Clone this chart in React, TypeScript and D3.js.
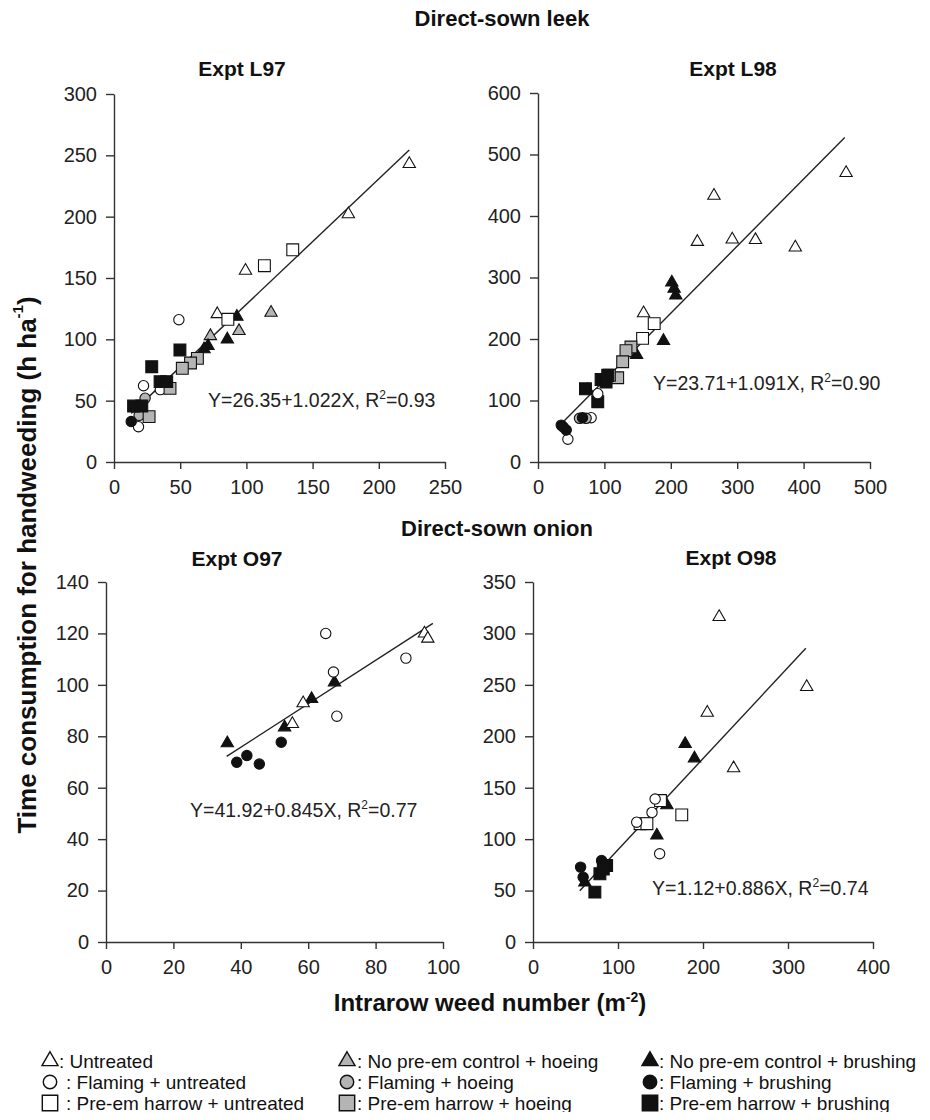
import React, { useEffect, useRef } from 'react';
import * as d3 from 'd3';

// treatment codes: U untreated, H no pre-em + hoeing, B no pre-em + brushing,
// FU/FH/FB flaming + untreated/hoeing/brushing, PU/PH/PB pre-em harrow + ...
const legendRows = [
  ['U', 'H', 'B'],
  ['FU', 'FH', 'FB'],
  ['PU', 'PH', 'PB'],
];
const legendLabels: Record<string, string> = {
  U: ': Untreated',
  H: ': No pre-em control + hoeing',
  B: ': No pre-em control + brushing',
  FU: ': Flaming + untreated',
  FH: ': Flaming + hoeing',
  FB: ': Flaming + brushing',
  PU: ': Pre-em harrow + untreated',
  PH: ': Pre-em harrow + hoeing',
  PB: ': Pre-em harrow + brushing',
};

// [treatment, weeds m-2, h ha-1]
const l97Points: [string, number, number][] = [
  ['U', 223, 243], ['U', 177, 202], ['U', 99.3, 156], ['U', 78, 120.6],
  ['H', 118.6, 121.7], ['H', 94.4, 106.8], ['H', 72.8, 102.7],
  ['B', 92.8, 118.5], ['B', 85.6, 100], ['B', 71, 94.6], ['B', 68, 92],
  ['FU', 49, 116], ['FU', 22.3, 62.2], ['FU', 35, 59], ['FU', 18.5, 28.8],
  ['FH', 23.5, 52], ['FH', 19, 38],
  ['FB', 13, 33], ['FB', 15, 45],
  ['PU', 135, 173], ['PU', 113.6, 160], ['PU', 86, 116.3],
  ['PH', 63, 84.5], ['PH', 57.8, 80.7], ['PH', 51.6, 76.4], ['PH', 42.3, 60], ['PH', 26.5, 37],
  ['PB', 49.8, 91.3], ['PB', 28.5, 77.7], ['PB', 34.8, 65.5], ['PB', 39.8, 65.5],
  ['PB', 14.8, 45.6], ['PB', 21, 45.6],
];
const l98Points: [string, number, number][] = [
  ['U', 464, 470], ['U', 265, 433], ['U', 240, 358], ['U', 292.5, 362],
  ['U', 327.5, 361], ['U', 387.5, 349], ['U', 159, 242],
  ['B', 201.5, 292], ['B', 205, 282], ['B', 207.5, 271], ['B', 189, 197],
  ['B', 148.5, 174], ['B', 75, 117],
  ['PU', 175, 225], ['PU', 157.5, 201],
  ['PH', 140, 187], ['PH', 132.5, 181], ['PH', 127.5, 163], ['PH', 120, 137], ['PH', 107.5, 141],
  ['PB', 95, 134], ['PB', 102.5, 130], ['PB', 90, 98], ['PB', 71.5, 119], ['PB', 105, 141],
  ['FU', 45, 37], ['FU', 80, 72], ['FU', 90, 111],
  ['FH', 62.5, 71], ['FH', 72.5, 71],
  ['FB', 35, 60], ['FB', 42.5, 52], ['FB', 38, 57], ['FB', 67, 72],
];
const o97Points: [string, number, number][] = [
  ['B', 36, 77.3], ['B', 53, 83.5], ['B', 61, 94.5], ['B', 67.8, 101],
  ['FB', 38.8, 69.9], ['FB', 41.8, 72.5], ['FB', 45.5, 69.2], ['FB', 52, 77.7],
  ['U', 55.3, 84.8], ['U', 58.5, 92.9], ['U', 94.5, 120], ['U', 95.5, 118],
  ['FU', 65.2, 120], ['FU', 67.5, 105], ['FU', 68.5, 87.8], ['FU', 89, 110.4],
];
const o98Points: [string, number, number][] = [
  ['U', 219, 316], ['U', 205, 223], ['U', 322, 248], ['U', 236, 169],
  ['B', 179, 192.6], ['B', 190, 178.6], ['B', 157.5, 133], ['B', 145.7, 103.6], ['B', 61, 58],
  ['PU', 175, 123.6], ['PU', 150, 137.5], ['PU', 126, 115], ['PU', 134, 115],
  ['FU', 143.7, 139], ['FU', 140, 126], ['FU', 122, 116.5], ['FU', 149, 85.8],
  ['FB', 56, 72.8], ['FB', 59, 63], ['FB', 80.7, 79.3],
  ['PB', 72.8, 48.5], ['PB', 78.7, 66.3], ['PB', 86.6, 74.4], ['PB', 82.7, 71],
];

const titles = ['Expt L97', 'Expt L98', 'Expt O97', 'Expt O98'];
const intercepts = [26.35, 23.71, 41.92, 1.12];
const slopes = [1.022, 1.091, 0.845, 0.886];
const fitFrom = [13, 37, 35.8, 55];
const fitTo = [223, 462, 97, 321];
const r2Labels = ['0.93', '0.90', '0.77', '0.74'];
const xTicks = [
  [0, 50, 100, 150, 200, 250],
  [0, 100, 200, 300, 400, 500],
  [0, 20, 40, 60, 80, 100],
  [0, 100, 200, 300, 400],
];
const yTicks = [
  [0, 50, 100, 150, 200, 250, 300],
  [0, 100, 200, 300, 400, 500, 600],
  [0, 20, 40, 60, 80, 100, 120, 140],
  [0, 50, 100, 150, 200, 250, 300, 350],
];

const FONT = "'Liberation Sans', Arial, Helvetica, sans-serif";

const App = () => {
  const ref = useRef<SVGSVGElement>(null);

  useEffect(() => {
    drawChart();
  }, []); // eslint-disable-line react-hooks/exhaustive-deps

  const drawChart = () => {
    const svg = d3.select(ref.current);
    svg.selectAll('*').remove();

    const allPoints = [l97Points, l98Points, o97Points, o98Points];
    // plot boxes: [left, right, bottom, top]
    const boxes = [
      [114, 445, 462, 94],
      [538, 870, 462, 93],
      [106, 443, 942, 582],
      [533, 873, 942, 582],
    ];
    const titlePos = [
      [242, 68],
      [733, 68],
      [237, 558],
      [731, 557],
    ];
    const eqPos = [
      [208, 400],
      [653, 383],
      [190, 810],
      [652, 888],
    ];

    const symbolFor = (t: string) => {
      const last = t[t.length - 1];
      const kind = t.length === 1 ? 'tri' : t[0] === 'F' ? 'circ' : 'sq';
      const fill = last === 'B' ? '#111' : last === 'H' ? '#b4b4b4' : '#fff';
      const shape = kind === 'tri' ? d3.symbolTriangle : kind === 'circ' ? d3.symbolCircle : d3.symbolSquare;
      const size = kind === 'tri' ? 66 : kind === 'circ' ? 84 : 140;
      return { path: d3.symbol().type(shape).size(size)(), fill };
    };

    allPoints.forEach((pts, i) => {
      const [l, r, b, t] = boxes[i];
      const x = d3.scaleLinear().domain([xTicks[i][0], xTicks[i][xTicks[i].length - 1]]).range([l, r]);
      const y = d3.scaleLinear().domain([yTicks[i][0], yTicks[i][yTicks[i].length - 1]]).range([b, t]);
      const g = svg.append('g');

      const xAxis = g
        .append('g')
        .attr('transform', `translate(0, ${b})`)
        .call(d3.axisBottom(x).tickValues(xTicks[i]).tickSize(7).tickSizeOuter(0).tickPadding(11));
      const yAxis = g
        .append('g')
        .attr('transform', `translate(${l}, 0)`)
        .call(d3.axisLeft(y).tickValues(yTicks[i]).tickSize(8).tickSizeOuter(0).tickPadding(9));
      [xAxis, yAxis].forEach((a) => {
        a.selectAll('path, line').attr('stroke', '#333').attr('stroke-width', 1.4);
        a.selectAll('text').attr('font-family', FONT).attr('font-size', 20).attr('fill', '#222');
      });

      // regression line
      const line = d3
        .line<number>()
        .x((d) => x(d))
        .y((d) => y(intercepts[i] + slopes[i] * d));
      g.append('path')
        .attr('d', line([fitFrom[i], fitTo[i]]))
        .attr('stroke', '#222')
        .attr('stroke-width', 1.4)
        .attr('fill', 'none');

      g.selectAll('path.pt')
        .data(pts)
        .enter()
        .append('path')
        .attr('class', 'pt')
        .attr('d', (d) => symbolFor(d[0]).path)
        .attr('fill', (d) => symbolFor(d[0]).fill)
        .attr('stroke', '#111')
        .attr('stroke-width', 1.1)
        .attr('transform', (d) => `translate(${x(d[1])}, ${y(d[2])})`);

      g.append('text')
        .attr('x', titlePos[i][0])
        .attr('y', titlePos[i][1])
        .attr('text-anchor', 'middle')
        .attr('dominant-baseline', 'central')
        .attr('font-family', FONT)
        .attr('font-weight', 'bold')
        .attr('font-size', 21)
        .attr('fill', '#111')
        .text(titles[i]);

      const eq = g
        .append('text')
        .attr('x', eqPos[i][0])
        .attr('y', eqPos[i][1] + 7)
        .attr('font-family', FONT)
        .attr('font-size', 19.5)
        .attr('fill', '#222');
      eq.append('tspan').text(`Y=${intercepts[i]}+${slopes[i].toFixed(3)}X, R`);
      eq.append('tspan').attr('dy', -8).attr('font-size', 12).text('2');
      eq.append('tspan').attr('dy', 8).text(`=${r2Labels[i]}`);
    });

    const bold = (txt: d3.Selection<SVGTextElement, unknown, null, undefined>, size: number) =>
      txt.attr('font-family', FONT).attr('font-weight', 'bold').attr('font-size', size).attr('fill', '#111');

    bold(svg.append('text').attr('x', 502).attr('y', 26).attr('text-anchor', 'middle'), 22).text('Direct-sown leek');
    bold(svg.append('text').attr('x', 497).attr('y', 536).attr('text-anchor', 'middle'), 22).text('Direct-sown onion');

    const xt = bold(svg.append('text').attr('x', 490).attr('y', 1011).attr('text-anchor', 'middle'), 24);
    xt.append('tspan').text('Intrarow weed number (m');
    xt.append('tspan').attr('dy', -9).attr('font-size', 14).text('-2');
    xt.append('tspan').attr('dy', 9).text(')');

    const yt = bold(
      svg
        .append('text')
        .attr('transform', 'translate(27, 565) rotate(-90)')
        .attr('text-anchor', 'middle')
        .attr('dominant-baseline', 'central'),
      26
    );
    yt.append('tspan').text('Time consumption for handweeding (h ha');
    yt.append('tspan').attr('dy', -10).attr('font-size', 15).text('-1');
    yt.append('tspan').attr('dy', 10).text(')');

    // legend
    const symX = [50, 347, 650];
    const textX = [
      [59, 357, 659],
      [66, 357, 659],
      [66, 357, 659],
    ];
    const rowY = [1061, 1082, 1103];
    legendRows.forEach((row, ri) => {
      row.forEach((code, ci) => {
        const s = symbolFor(code);
        svg
          .append('path')
          .attr('d', s.path)
          .attr('fill', s.fill)
          .attr('stroke', '#111')
          .attr('stroke-width', 1.1)
          .attr('transform', `translate(${symX[ci]}, ${rowY[ri]}) scale(1.3)`);
        svg
          .append('text')
          .attr('x', textX[ri][ci])
          .attr('y', rowY[ri])
          .attr('dominant-baseline', 'central')
          .attr('font-family', FONT)
          .attr('font-size', 19)
          .attr('fill', '#111')
          .text(legendLabels[code]);
      });
    });
  };

  return (
    <div>
      <svg ref={ref} width={930} height={1120} style={{ display: 'block', margin: -8 }}></svg>
    </div>
  );
};

export default App;
